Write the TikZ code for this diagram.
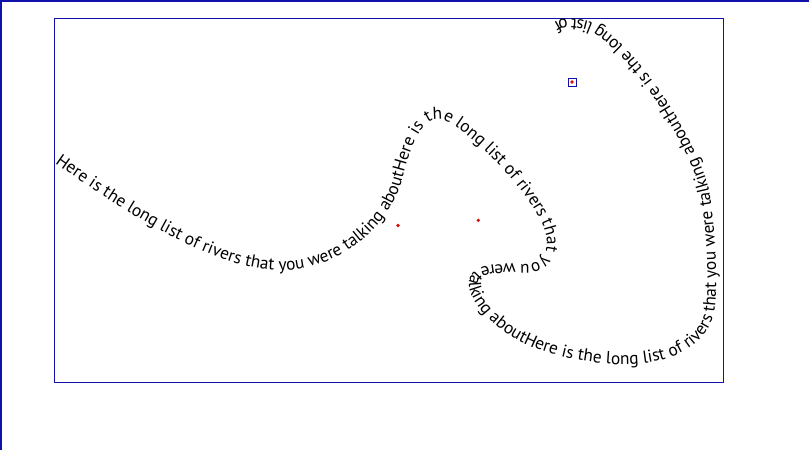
\documentclass[tikz,border=0pt]{standalone}
\usepackage{fontspec}
\usetikzlibrary{decorations.text}
\newfontfamily\riverfamily{PT Sans}
\newcommand{\riverfont}{\riverfamily\fontsize{17.4pt}{20pt}\selectfont}
\definecolor{frameblue}{RGB}{16,16,170}
\definecolor{dotred}{RGB}{220,10,10}
\begin{document}
\begin{tikzpicture}[x=1pt,y=-1pt,
    frame/.style={draw=frameblue,line width=1pt},
    ctrldot/.style={fill=dotred}]
      \useasboundingbox (0,0) rectangle (809,450);
      \fill[white] (0,0) rectangle (809,450);

      % outer and inner frames
      \draw[frameblue,line width=1.6pt] (0,0.8) -- (809,0.8);
      \draw[frameblue,line width=1.6pt] (0.8,0) -- (0.8,450);
      \draw[frame] (54.5,18.5) rectangle (723,382);

      % text on the curve
      \path[decorate,decoration={text along path,
        text={|\riverfont|Here is the long list of rivers that you were talking aboutHere is the long list of rivers that you were talking aboutHere is the long list of rivers that you were talking aboutHere is the long list of rivers that you were talking about}}]
        (55,163) .. controls (130,216) and (222,274) .. (287,270)
        .. controls (343,267) and (390,225) .. (402,180)
        .. controls (408,158) and (418,117) .. (440,119)
        .. controls (458,121) and (527,185) .. (544,228)
        .. controls (550,243) and (547,264) .. (528,264)
        .. controls (502,264) and (468,262) .. (469,285)
        .. controls (470,305) and (500,336) .. (540,350)
        .. controls (585,366) and (688,382) .. (713,318)
        .. controls (719,296) and (716,236) .. (710,196)
        .. controls (704,150) and (630,30) .. (585,21)
        .. controls (566,17) and (553,19) .. (550,28);

      % control points
      \fill[ctrldot] (398,225.5) circle (1.8);
      \fill[ctrldot] (478.3,220.3) circle (1.8);
      \draw[frameblue,line width=0.8pt] (568,78) rectangle (576,86);
      \fill[ctrldot] (572,82) circle (1.8);

\end{tikzpicture}
\end{document}
